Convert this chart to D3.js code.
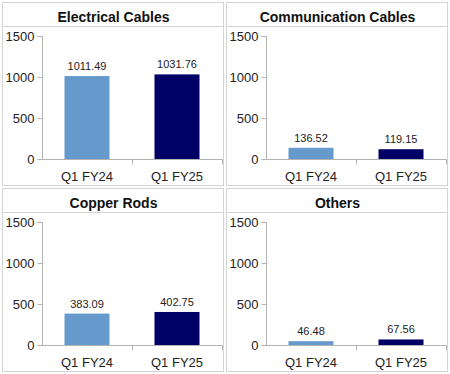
<!DOCTYPE html>
<html>
<head>
<meta charset="utf-8">
<script src="https://cdn.jsdelivr.net/npm/d3@7"></script>
<style>
  body { margin: 0; background: #fff; }
  svg { display: block; font-family: "Liberation Sans", Arial, sans-serif; }
</style>
</head>
<body>
<div id="chart"></div>
<script>
const titles = ["Electrical Cables", "Communication Cables", "Copper Rods", "Others"];
const periods = ["Q1 FY24", "Q1 FY25"];
const fy24Values = [1011.49, 136.52, 383.09, 46.48];
const fy25Values = [1031.76, 119.15, 402.75, 67.56];
const yTicks = [0, 500, 1000, 1500];
const barColors = ["#6699cc", "#000066"];

const width = 450;
const height = 374;

const svg = d3.select("#chart")
  .append("svg")
  .attr("width", width)
  .attr("height", height);

// panel boxes (2 x 2 grid)
const panelW = 221, panelH = 183;
const origins = [[2, 2], [226, 2], [2, 188], [226, 188]];

titles.forEach((title, i) => {
  const [px, py] = origins[i];
  const g = svg.append("g").attr("transform", `translate(${px}, ${py})`);

  g.append("rect")
    .attr("x", 0.5).attr("y", 0.5)
    .attr("width", panelW).attr("height", panelH)
    .attr("fill", "#fff")
    .attr("stroke", "#d4d4d4");

  g.append("line")
    .attr("x1", 0.5).attr("x2", panelW + 0.5)
    .attr("y1", 24.5).attr("y2", 24.5)
    .attr("stroke", "#d4d4d4");

  g.append("text")
    .attr("x", panelW / 2 + 1)
    .attr("y", 20)
    .attr("text-anchor", "middle")
    .attr("font-size", 14)
    .attr("font-weight", "bold")
    .attr("fill", "#111")
    .text(title);

  const y = d3.scaleLinear().domain([0, 1500]).range([157, 34]);
  const x = d3.scaleBand().domain(periods).range([40, 220])
    .paddingInner(0.5).paddingOuter(0.25);

  const values = [fy24Values[i], fy25Values[i]];

  // y axis
  const yAxis = g.append("g")
    .attr("transform", "translate(40.5, 0)")
    .call(d3.axisLeft(y).tickValues(yTicks).tickFormat(d3.format("d")).tickSize(5).tickPadding(3));
  yAxis.select(".domain").attr("stroke", "#b3b3b3").attr("d", `M-5,${y(0) + 0.5}H0V${y(1500) + 0.5}H-5`);
  yAxis.selectAll(".tick line").attr("stroke", "#b3b3b3");
  yAxis.selectAll(".tick text")
    .attr("font-size", 13)
    .attr("font-family", "Liberation Sans, Arial, sans-serif")
    .attr("fill", "#222");

  // x axis
  const xAxis = g.append("g")
    .attr("transform", `translate(0, ${y(0) + 0.5})`);
  xAxis.append("line")
    .attr("x1", 40.5).attr("x2", 220.5)
    .attr("stroke", "#b3b3b3");
  xAxis.selectAll(".sep")
    .data([130, 220])
    .enter().append("line")
    .attr("class", "sep")
    .attr("x1", (d) => d + 0.5).attr("x2", (d) => d + 0.5)
    .attr("y1", 0).attr("y2", 5)
    .attr("stroke", "#b3b3b3");
  xAxis.selectAll(".lbl")
    .data(periods)
    .enter().append("text")
    .attr("class", "lbl")
    .attr("x", (d) => x(d) + x.bandwidth() / 2)
    .attr("y", 21)
    .attr("text-anchor", "middle")
    .attr("font-size", 13)
    .attr("fill", "#222")
    .text((d) => d);

  // bars
  g.selectAll(".bar")
    .data(values)
    .enter().append("rect")
    .attr("class", "bar")
    .attr("x", (d, j) => x(periods[j]))
    .attr("y", (d) => y(d))
    .attr("width", x.bandwidth())
    .attr("height", (d) => y(0) - y(d))
    .attr("fill", (d, j) => barColors[j]);

  // value labels
  g.selectAll(".val")
    .data(values)
    .enter().append("text")
    .attr("class", "val")
    .attr("x", (d, j) => x(periods[j]) + x.bandwidth() / 2)
    .attr("y", (d) => y(d) - 6)
    .attr("text-anchor", "middle")
    .attr("font-size", 11)
    .attr("fill", "#222")
    .text((d) => d.toFixed(2));
});
</script>
</body>
</html>
